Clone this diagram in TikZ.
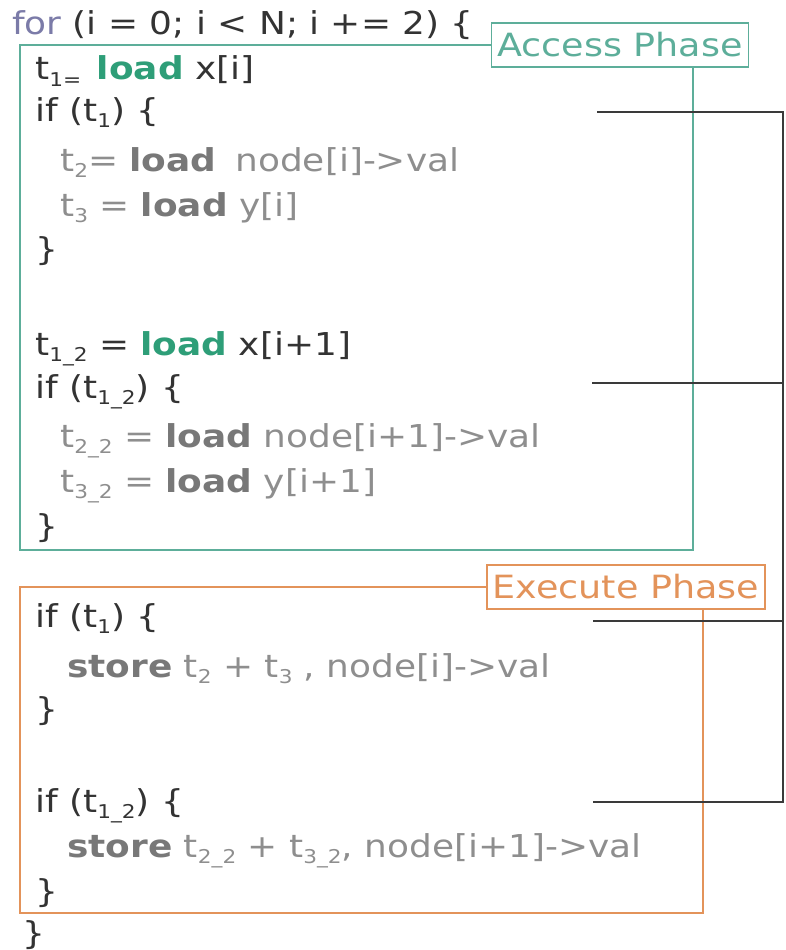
\documentclass[tikz,border=0pt]{standalone}
\usepackage{fontspec}
\setmainfont[FakeStretch=1.14]{DejaVu Sans}

\definecolor{codedark}{HTML}{333333}
\definecolor{codegray}{HTML}{8E8E8E}
\definecolor{loadgray}{HTML}{787878}
\definecolor{forpurple}{HTML}{7B7BA8}
\definecolor{accgreen}{HTML}{2E9E78}
\definecolor{accline}{HTML}{5DAE9A}
\definecolor{exorange}{HTML}{E3935A}
\definecolor{linkdark}{HTML}{3A3A3A}

% subscripts of the temporaries
\newcommand{\tsub}[1]{\raisebox{-0.4ex}{\fontsize{19}{19}\selectfont #1}}
\newcommand{\kw}[2]{\textbf{\color{#1}#2}}

\begin{document}
\begin{tikzpicture}[x=1pt, y=-1pt,
    code/.style={anchor=base west, inner sep=0pt, font=\fontsize{31.5}{36}\selectfont, text=codedark},
    faint/.style={code, text=codegray},
    phase/.style={draw, line width=1.5pt, fill=white, inner xsep=6pt, inner ysep=0pt,
        minimum height=44pt, font=\fontsize{32}{36}\selectfont},
    link/.style={draw=linkdark, line width=2.2pt}]
    \useasboundingbox (0,0) rectangle (785,950);

    % Loop header
    \node[code] (head) at (12,35) {{\color{forpurple}for} (i = 0; i < N; i += 2) \{};

    % Access phase box
    \coordinate (accSW) at (20,550);
    \coordinate (accSE) at (693,550);
    \node[phase, draw=accline, text=accline] (acclbl) at (620,45) {Access Phase};
    \draw[accline, line width=1.5pt] (acclbl.west) -| (accSW) -- (accSE) -- (accSE |- acclbl.south);

    % Execute phase box
    \coordinate (exSW) at (20,913);
    \coordinate (exSE) at (703,913);
    \node[phase, draw=exorange, text=exorange] (exlbl) at (626,587) {Execute Phase};
    \draw[exorange, line width=1.5pt] (exlbl.west) -| (exSW) -- (exSE) -- (exSE |- exlbl.south);

    % Access phase code
    \node[code] (ld1) at (35,80) {t\tsub{1=}\hspace{0.5em}\kw{accgreen}{load} x[i]};
    \node[code] (if1) at (35,121) {if (t\tsub{1}) \{};
    \node[faint] (ld2) at (60,171) {t\tsub{2}= \kw{loadgray}{load}\hspace{0.6em}node[i]->val};
    \node[faint] (ld3) at (60,216) {t\tsub{3} = \kw{loadgray}{load} y[i]};
    \node[code] (cl1) at (35,260) {\}};
    \node[code] (ld1b) at (35,355) {t\tsub{1\_2} = \kw{accgreen}{load} x[i+1]};
    \node[code] (if1b) at (35,398) {if (t\tsub{1\_2}) \{};
    \node[faint] (ld2b) at (60,447) {t\tsub{2\_2} = \kw{loadgray}{load} node[i+1]->val};
    \node[faint] (ld3b) at (60,492) {t\tsub{3\_2} = \kw{loadgray}{load} y[i+1]};
    \node[code] (cl1b) at (35,537) {\}};

    % Execute phase code
    \node[code] (ex1) at (35,627) {if (t\tsub{1}) \{};
    \node[faint] (st1) at (67,677) {\kw{loadgray}{store} t\tsub{2} + t\tsub{3} , node[i]->val};
    \node[code] (cl2) at (35,720) {\}};
    \node[code] (ex2) at (35,812) {if (t\tsub{1\_2}) \{};
    \node[faint] (st2) at (67,857) {\kw{loadgray}{store} t\tsub{2\_2} + t\tsub{3\_2}, node[i+1]->val};
    \node[code] (cl2b) at (35,902) {\}};
    \node[code] (tail) at (22,944) {\}};

    % Dependence links from the guards to the stores
    \coordinate (g1) at (597,112);
    \coordinate (g2) at (592,383);
    \coordinate (g3) at (593,621);
    \coordinate (g4) at (593,802);
    \coordinate (railtop) at (783,112);
    \coordinate (railbot) at (783,802);
    \draw[link] (g1) -- (railtop) -- (railbot) -- (g4);
    \draw[link] (g2) -- (g2 -| railtop);
    \draw[link] (g3) -- (g3 -| railtop);
\end{tikzpicture}
\end{document}
